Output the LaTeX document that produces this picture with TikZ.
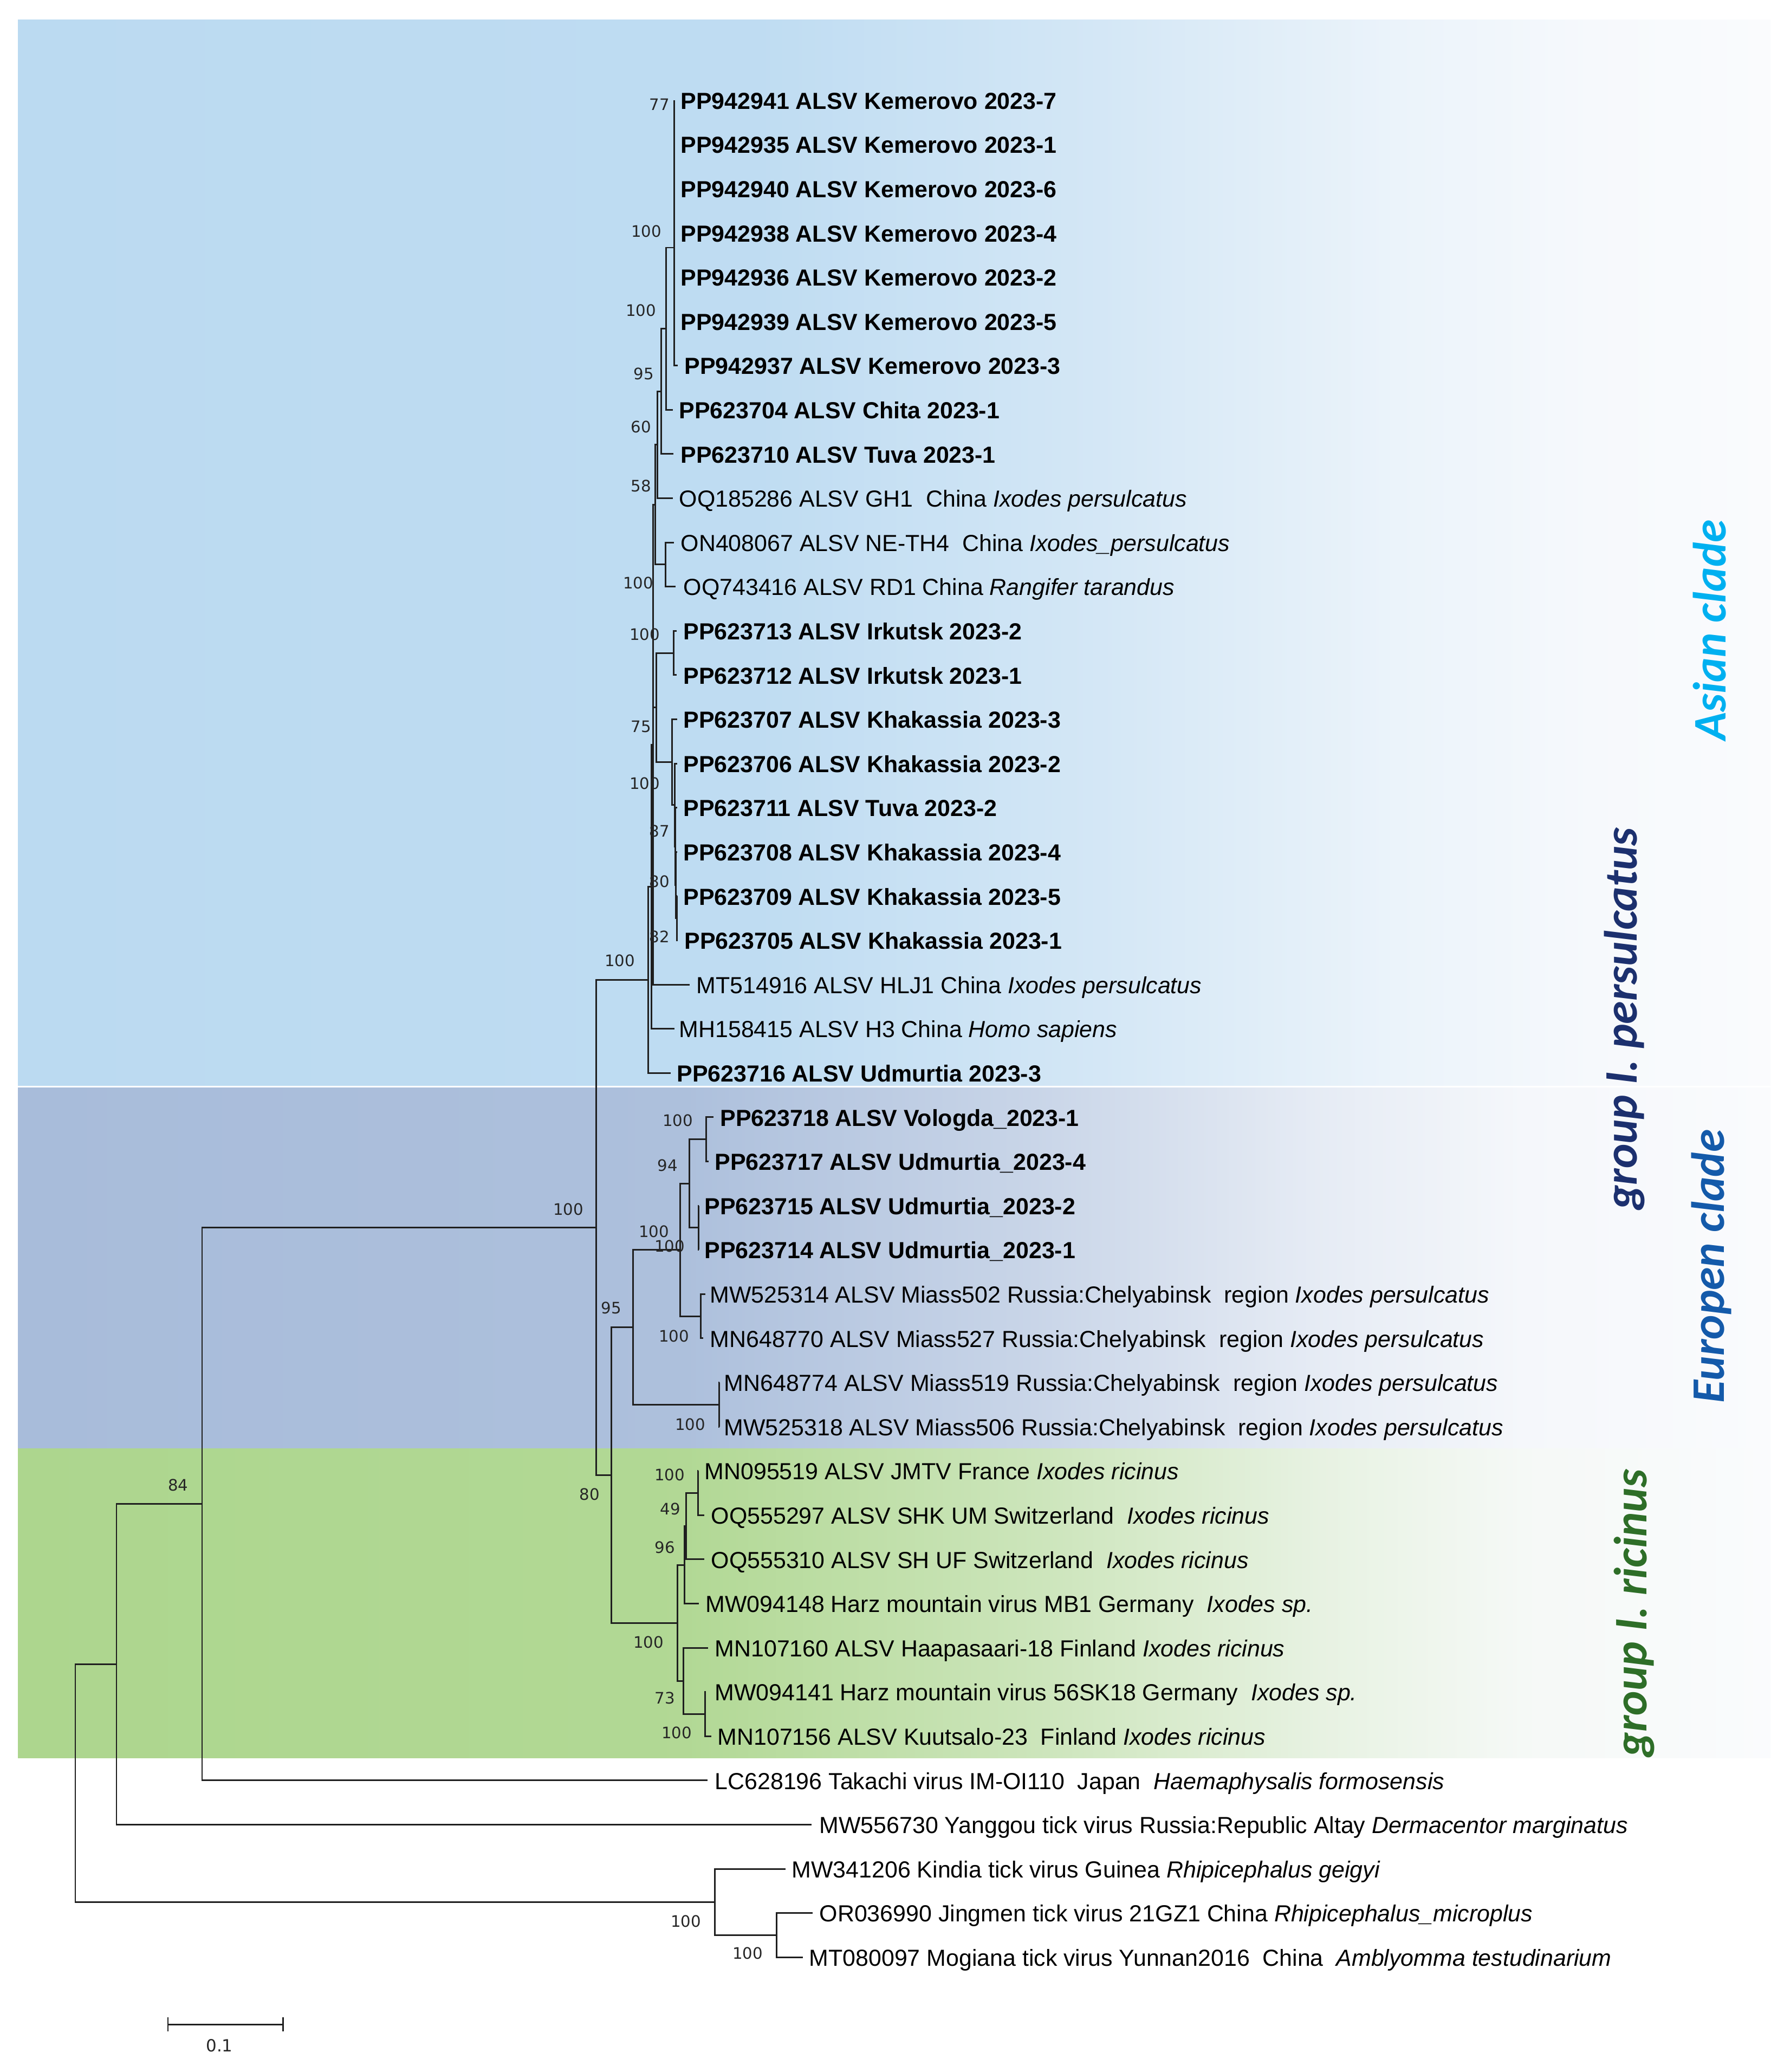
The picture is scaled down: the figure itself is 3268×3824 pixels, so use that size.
\documentclass[tikz,border=0pt]{standalone}
\usepackage{fontspec}
\setmainfont{Liberation Sans}
\newfontfamily\bootfont{DejaVu Sans}
\newfontfamily\cladefont{Carlito}
\newcommand\leaffont{\fontsize{12.2pt}{14pt}\selectfont}
\newcommand\bootsz{\bootfont\fontsize{8.3pt}{10pt}\selectfont}
\newcommand\cladesz{\cladefont\bfseries\itshape\fontsize{24.5pt}{28pt}\selectfont}
\definecolor{bgR}{RGB}{250,251,253}
\definecolor{asL}{RGB}{187,218,241}
\definecolor{euL}{RGB}{168,188,218}
\definecolor{grL}{RGB}{173,214,142}
\colorlet{asA}{asL!94!bgR}\colorlet{asB}{asL!60!bgR}\colorlet{asC}{asL!25!bgR}\colorlet{asD}{asL!6!bgR}
\colorlet{euA}{euL!94!bgR}\colorlet{euB}{euL!60!bgR}\colorlet{euC}{euL!25!bgR}\colorlet{euD}{euL!6!bgR}
\colorlet{grA}{grL!94!bgR}\colorlet{grB}{grL!60!bgR}\colorlet{grC}{grL!25!bgR}\colorlet{grD}{grL!6!bgR}
\pgfdeclarehorizontalshading{asShade}{100bp}{color(0bp)=(asL); color(25bp)=(asL); color(46bp)=(asA); color(56bp)=(asB); color(64bp)=(asC); color(70bp)=(asD); color(75bp)=(bgR); color(100bp)=(bgR)}
\pgfdeclarehorizontalshading{euShade}{100bp}{color(0bp)=(euL); color(25bp)=(euL); color(44bp)=(euA); color(54bp)=(euB); color(62bp)=(euC); color(68bp)=(euD); color(75bp)=(bgR); color(100bp)=(bgR)}
\pgfdeclarehorizontalshading{grShade}{100bp}{color(0bp)=(grL); color(25bp)=(grL); color(44bp)=(grA); color(54bp)=(grB); color(62bp)=(grC); color(68bp)=(grD); color(75bp)=(bgR); color(100bp)=(bgR)}
\definecolor{asianC}{RGB}{0,176,240}
\definecolor{persC}{RGB}{28,48,110}
\definecolor{euroC}{RGB}{20,90,170}
\definecolor{ricC}{RGB}{46,110,40}
\begin{document}
\begin{tikzpicture}[x=0.01cm,y=-0.01cm,
  br/.style={line width=0.85pt, draw=black!88},
  leaf/.style={anchor=mid west, inner sep=0pt, yshift=-0.07cm, font=\leaffont},
  leafb/.style={anchor=mid west, inner sep=0pt, yshift=-0.07cm, font=\leaffont\bfseries},
  boot/.style={inner sep=0pt, font=\bootsz, text=black!85},
  clade/.style={rotate=90, inner sep=0pt, font=\cladesz}]
\useasboundingbox (0,0) rectangle (3268,3824);
\fill[white] (0,0) rectangle (3268,3824);
% backgrounds
\shade[shading=asShade] (33,37) rectangle (3268,2003);
\shade[shading=euShade] (33,2007) rectangle (3268,2673);
\shade[shading=grShade] (33,2673) rectangle (3268,3244);

% internal nodes
\coordinate (root) at (139,3290.85);
\coordinate (nA) at (215,3071.5);
\coordinate (nB) at (373,2775.55);
\coordinate (nC) at (1100,2265.3);
\coordinate (nP0) at (1196,1808.3);
\coordinate (nX) at (1202,1636.4);
\coordinate (nY) at (1205,1374.15);
\coordinate (nN4) at (1209,931.3);
\coordinate (nN3) at (1213,820.8);
\coordinate (nN2) at (1220,722.2);
\coordinate (nN1) at (1229,606.6);
\coordinate (nK) at (1244,457);
\coordinate (nON) at (1228,1041.8);
\coordinate (nIK) at (1211,1305.7);
\coordinate (nIrk) at (1243,1205);
\coordinate (nKH) at (1240,1406.45);
\coordinate (nKH2) at (1245,1485.5);
\coordinate (nQ1) at (1246,1562);
\coordinate (nQ2) at (1247,1633.4);
\coordinate (nQ3) at (1249,1694.6);
\coordinate (nD) at (1128,2722.25);
\coordinate (nE) at (1168,2449.4);
\coordinate (nF) at (1255,2306.6);
\coordinate (nH) at (1272,2184.2);
\coordinate (nK1) at (1303,2102.6);
\coordinate (nK2) at (1289,2265.8);
\coordinate (nI) at (1293,2429);
\coordinate (nG) at (1327,2592.2);
\coordinate (nR) at (1250,2995.1);
\coordinate (nR1) at (1263,2888);
\coordinate (nR1b) at (1266,2816.6);
\coordinate (nR2) at (1288,2755.4);
\coordinate (nR3) at (1261,3102.2);
\coordinate (nR4) at (1301,3163.4);
\coordinate (nJ) at (1319,3510.2);
\coordinate (nJ2) at (1433,3571.4);

% leaf tips
\foreach \i/\x in {1/1244,2/1244,3/1244,4/1244,5/1244,6/1244,7/1251,8/1242,9/1243,10/1242,
  11/1244,12/1247,13/1249,14/1249,15/1250,16/1250,17/1250,18/1250,19/1250,20/1251,
  21/1273,22/1245,23/1238,24/1317,25/1308,26/1290,27/1290,28/1302,29/1298,30/1328,
  31/1328,32/1289,33/1300,34/1300,35/1290,36/1307,37/1303,38/1313,39/1306,40/1498,
  41/1450,42/1500,43/1482}
  \coordinate (t\i) at (\x,{185+81.6*(\i-1)});

% branches
\foreach \p/\c in {root/nA,root/nJ,nA/nB,nA/t40,nB/nC,nB/t39,nC/nP0,nC/nD,
  nP0/nX,nP0/t23,nX/nY,nX/t22,nY/nN4,nY/nIK,nY/t21,nN4/nN3,nN4/nON,
  nN3/nN2,nN3/t10,nN2/nN1,nN2/t9,nN1/nK,nN1/t8,
  nK/t1,nK/t2,nK/t3,nK/t4,nK/t5,nK/t6,nK/t7,nON/t11,nON/t12,
  nIK/nIrk,nIK/nKH,nIrk/t13,nIrk/t14,nKH/t15,nKH/nKH2,nKH2/t16,nKH2/nQ1,
  nQ1/t17,nQ1/nQ2,nQ2/t18,nQ2/nQ3,nQ3/t19,nQ3/t20,
  nD/nE,nD/nR,nE/nF,nE/nG,nF/nH,nF/nI,nH/nK1,nH/nK2,nK1/t24,nK1/t25,
  nK2/t26,nK2/t27,nI/t28,nI/t29,nG/t30,nG/t31,
  nR/nR1,nR/nR3,nR1/nR1b,nR1/t35,nR1b/nR2,nR1b/t34,nR2/t32,nR2/t33,
  nR3/t36,nR3/nR4,nR4/t37,nR4/t38,nJ/t41,nJ/nJ2,nJ2/t42,nJ2/t43}
  \draw[br] (\p) |- (\c);

% leaf labels
\node[leafb] (l1) at (1256,185) {PP942941 ALSV Kemerovo 2023-7};
\node[leafb] (l2) at (1256,266.6) {PP942935 ALSV Kemerovo 2023-1};
\node[leafb] (l3) at (1256,348.2) {PP942940 ALSV Kemerovo 2023-6};
\node[leafb] (l4) at (1256,429.8) {PP942938 ALSV Kemerovo 2023-4};
\node[leafb] (l5) at (1256,511.4) {PP942936 ALSV Kemerovo 2023-2};
\node[leafb] (l6) at (1256,593) {PP942939 ALSV Kemerovo 2023-5};
\node[leafb] (l7) at (1263,674.6) {PP942937 ALSV Kemerovo 2023-3};
\node[leafb] (l8) at (1253,756.2) {PP623704 ALSV Chita 2023-1};
\node[leafb] (l9) at (1256,837.8) {PP623710 ALSV Tuva 2023-1};
\node[leaf] (l10) at (1253,919.4) {OQ185286 ALSV GH1~~China \textit{Ixodes persulcatus}};
\node[leaf] (l11) at (1256,1001) {ON408067 ALSV NE-TH4~~China \textit{Ixodes\_persulcatus}};
\node[leaf] (l12) at (1261,1082.6) {OQ743416 ALSV RD1 China \textit{Rangifer tarandus}};
\node[leafb] (l13) at (1261,1164.2) {PP623713 ALSV Irkutsk 2023-2};
\node[leafb] (l14) at (1261,1245.8) {PP623712 ALSV Irkutsk 2023-1};
\node[leafb] (l15) at (1261,1327.4) {PP623707 ALSV Khakassia 2023-3};
\node[leafb] (l16) at (1261,1409) {PP623706 ALSV Khakassia 2023-2};
\node[leafb] (l17) at (1261,1490.6) {PP623711 ALSV Tuva 2023-2};
\node[leafb] (l18) at (1261,1572.2) {PP623708 ALSV Khakassia 2023-4};
\node[leafb] (l19) at (1261,1653.8) {PP623709 ALSV Khakassia 2023-5};
\node[leafb] (l20) at (1263,1735.4) {PP623705 ALSV Khakassia 2023-1};
\node[leaf] (l21) at (1285,1817) {MT514916 ALSV HLJ1 China \textit{Ixodes persulcatus}};
\node[leaf] (l22) at (1253,1898.6) {MH158415 ALSV H3 China \textit{Homo sapiens}};
\node[leafb] (l23) at (1249,1980.2) {PP623716 ALSV Udmurtia 2023-3};
\node[leafb] (l24) at (1329,2061.8) {PP623718 ALSV Vologda\_2023-1};
\node[leafb] (l25) at (1319,2143.4) {PP623717 ALSV Udmurtia\_2023-4};
\node[leafb] (l26) at (1300,2225) {PP623715 ALSV Udmurtia\_2023-2};
\node[leafb] (l27) at (1300,2306.6) {PP623714 ALSV Udmurtia\_2023-1};
\node[leaf] (l28) at (1310,2388.2) {MW525314 ALSV Miass502 Russia:Chelyabinsk~~region \textit{Ixodes persulcatus}};
\node[leaf] (l29) at (1310,2469.8) {MN648770 ALSV Miass527 Russia:Chelyabinsk~~region \textit{Ixodes persulcatus}};
\node[leaf] (l30) at (1336,2551.4) {MN648774 ALSV Miass519 Russia:Chelyabinsk~~region \textit{Ixodes persulcatus}};
\node[leaf] (l31) at (1336,2633) {MW525318 ALSV Miass506 Russia:Chelyabinsk~~region \textit{Ixodes persulcatus}};
\node[leaf] (l32) at (1300,2714.6) {MN095519 ALSV JMTV France \textit{Ixodes ricinus}};
\node[leaf] (l33) at (1312,2796.2) {OQ555297 ALSV SHK UM Switzerland~~\textit{Ixodes ricinus}};
\node[leaf] (l34) at (1312,2877.8) {OQ555310 ALSV SH UF Switzerland~~\textit{Ixodes ricinus}};
\node[leaf] (l35) at (1302,2959.4) {MW094148 Harz mountain virus MB1 Germany~~\textit{Ixodes sp.}};
\node[leaf] (l36) at (1319,3041) {MN107160 ALSV Haapasaari-18 Finland \textit{Ixodes ricinus}};
\node[leaf] (l37) at (1319,3122.6) {MW094141 Harz mountain virus 56SK18 Germany~~\textit{Ixodes sp.}};
\node[leaf] (l38) at (1324,3204.2) {MN107156 ALSV Kuutsalo-23~~Finland \textit{Ixodes ricinus}};
\node[leaf] (l39) at (1319,3285.8) {LC628196 Takachi virus IM-OI110~~Japan~~\textit{Haemaphysalis formosensis}};
\node[leaf] (l40) at (1512,3367.4) {MW556730 Yanggou tick virus Russia:Republic Altay \textit{Dermacentor marginatus}};
\node[leaf] (l41) at (1461,3449) {MW341206 Kindia tick virus Guinea \textit{Rhipicephalus geigyi}};
\node[leaf] (l42) at (1512,3530.6) {OR036990 Jingmen tick virus 21GZ1 China \textit{Rhipicephalus\_microplus}};
\node[leaf] (l43) at (1493,3612.2) {MT080097 Mogiana tick virus Yunnan2016~~China~~\textit{Amblyomma testudinarium}};

% bootstrap values
\node[boot] (b1) at (1217,193) {77};
\node[boot] (b2) at (1193,427) {100};
\node[boot] (b3) at (1183,573) {100};
\node[boot] (b4) at (1188,690) {95};
\node[boot] (b5) at (1183,788) {60};
\node[boot] (b6) at (1183,897) {58};
\node[boot] (b7) at (1178,1076) {100};
\node[boot] (b8) at (1190,1171) {100};
\node[boot] (b9) at (1183,1341) {75};
\node[boot] (b10) at (1190,1446) {100};
\node[boot] (b11) at (1217,1534) {87};
\node[boot] (b12) at (1217,1627) {80};
\node[boot] (b13) at (1217,1729) {82};
\node[boot] (b14) at (1144,1773) {100};
\node[boot] (b15) at (1049,2232) {100};
\node[boot] (b16) at (1251,2068) {100};
\node[boot] (b17) at (1232,2151) {94};
\node[boot] (b18) at (1207,2273) {100};
\node[boot] (b19) at (1236,2300) {100};
\node[boot] (b20) at (1128,2414) {95};
\node[boot] (b21) at (1244,2466) {100};
\node[boot] (b22) at (1274,2629) {100};
\node[boot] (b23) at (329,2741) {84};
\node[boot] (b24) at (1088,2758) {80};
\node[boot] (b25) at (1236,2722) {100};
\node[boot] (b26) at (1237,2785) {49};
\node[boot] (b27) at (1227,2856) {96};
\node[boot] (b28) at (1197,3031) {100};
\node[boot] (b29) at (1227,3134) {73};
\node[boot] (b30) at (1249,3198) {100};
\node[boot] (b31) at (1266,3546) {100};
\node[boot] (b32) at (1380,3605) {100};

% clade labels
\node[clade, text=asianC] (cAsia) at (3156,1163) {Asian clade};
\node[clade, text=persC] (cPers) at (2998,1880) {group I. persulcatus};
\node[clade, text=euroC] (cEuro) at (3159,2337) {Europen clade};
\node[clade, text=ricC] (cRic) at (3016,2977) {group I. ricinus};

% scale bar
\coordinate (s1) at (310,3736);
\coordinate (s2) at (522,3736);
\draw[br] (s1) -- (s2);
\draw[br] (s1) ++(0,-13) -- ++(0,26);
\draw[br] (s2) ++(0,-13) -- ++(0,26);
\node[boot, font=\bootfont\fontsize{8.8pt}{10pt}\selectfont] (sl) at (405,3775) {0.1};
\end{tikzpicture}
\end{document}
